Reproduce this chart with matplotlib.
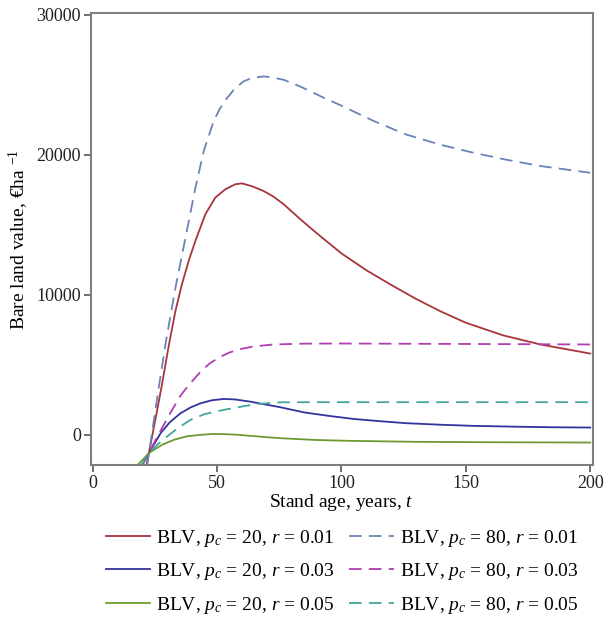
import matplotlib
matplotlib.use("Agg")
import matplotlib.pyplot as plt

plt.rcParams["font.family"] = ["Liberation Serif", "DejaVu Serif"]
plt.rcParams["mathtext.fontset"] = "custom"
plt.rcParams["mathtext.rm"] = "Liberation Serif"
plt.rcParams["mathtext.it"] = "Liberation Serif:italic"

# BLV, p_c = 20, r = 0.01
t_20_01 = [21.5, 24, 26, 27.9, 30.6, 33.3, 35.9, 38.6, 41.3, 45.3, 49.3, 53.3, 57.3, 60,
           64, 68.7, 72.7, 76.7, 83.4, 90, 100, 110, 120, 130, 140, 150, 165, 180, 200]
v_20_01 = [-2300, 0, 1850, 3650, 6400, 8880, 10780, 12440, 13860, 15760, 16940, 17530,
           17890, 17950, 17750, 17410, 17000, 16470, 15400, 14400, 12950, 11750, 10700,
           9700, 8800, 8000, 7100, 6450, 5800]

# BLV, p_c = 20, r = 0.03
t_20_03 = [19.5, 22.6, 27.3, 31, 35.3, 39.3, 43.3, 48, 52.6, 57, 63.3, 69, 75.4, 85,
           95, 105, 115, 126, 140, 153, 170, 185, 200]
v_20_03 = [-2300, -1300, 120, 900, 1540, 1950, 2250, 2470, 2560, 2530, 2370, 2180,
           1970, 1600, 1350, 1130, 980, 830, 720, 640, 580, 540, 520]

# BLV, p_c = 20, r = 0.05
t_20_05 = [17.5, 20, 22.6, 24.6, 28, 32.6, 38, 43.3, 48, 52.6, 58, 63.3, 70, 75.4, 90,
           103.4, 130, 160, 200]
v_20_05 = [-2250, -1800, -1300, -1070, -700, -355, -100, 0, 60, 50, 10, -70, -170, -240,
           -370, -430, -500, -530, -550]

# BLV, p_c = 80, r = 0.01
t_80_01 = [21.8, 24, 26.6, 29.3, 33.3, 37.3, 41.3, 44.6, 48.6, 51, 54, 57, 60.6, 64,
           68.7, 72, 76.7, 83.4, 92.7, 100, 113, 126, 140, 153, 166, 180, 200]
v_80_01 = [-2300, 350, 3430, 6520, 10540, 14090, 17650, 20250, 22390, 23250, 24040,
           24700, 25230, 25480, 25590, 25520, 25350, 24870, 24080, 23500, 22400, 21440,
           20700, 20140, 19650, 19190, 18710]

# BLV, p_c = 80, r = 0.03
t_80_03 = [19.5, 22.6, 25, 27.3, 31, 35.3, 38.6, 43.3, 47, 51.3, 55, 59.3, 65, 72.7,
           85, 100, 130, 160, 200]
v_80_03 = [-2300, -1300, -450, 300, 1500, 2800, 3550, 4500, 5100, 5570, 5880, 6120,
           6320, 6450, 6510, 6520, 6500, 6480, 6450]

# BLV, p_c = 80, r = 0.05
t_80_05 = [19, 22.6, 26, 29.9, 34, 39.3, 45, 52.6, 60, 66, 75.4, 90, 120, 160, 200]
v_80_05 = [-2300, -1300, -700, -120, 450, 1070, 1480, 1780, 2020, 2200, 2320, 2330,
           2330, 2330, 2330]

x_ticks = [0, 50, 100, 150, 200]
y_ticks = [0, 10000, 20000, 30000]

fig = plt.figure(figsize=(6.13, 6.30), dpi=100)
ax = fig.add_axes([0.148, 0.262, 0.819, 0.717])

dash = (7, 4)
series = [
    (t_20_01, v_20_01, "#A8343C", None, "20", "0.01"),
    (t_20_03, v_20_03, "#33339E", None, "20", "0.03"),
    (t_20_05, v_20_05, "#6C9A30", None, "20", "0.05"),
    (t_80_01, v_80_01, "#6A84B6", dash, "80", "0.01"),
    (t_80_03, v_80_03, "#B03EAE", dash, "80", "0.03"),
    (t_80_05, v_80_05, "#45A59C", dash, "80", "0.05"),
]
for t, v, col, ds, pc, r in series:
    lbl = f"BLV, $p_c$ = {pc}, $r$ = {r}"
    if ds:
        ax.plot(t, v, color=col, lw=1.3, dashes=ds, label=lbl)
    else:
        ax.plot(t, v, color=col, lw=1.3, label=lbl)

ax.set_xlim(-0.8, 201)
ax.set_ylim(-2150, 30100)
ax.set_xticks(x_ticks)
ax.set_yticks(y_ticks)
for s in ax.spines.values():
    s.set_color("#7f7f7f")
    s.set_linewidth(1.5)
ax.tick_params(direction="out", length=5, width=1.2, color="#555555",
               labelsize=13, labelcolor="#222222", pad=2)
ax.set_xlabel("Stand age, years, $t$", fontsize=14, labelpad=0)
ax.set_ylabel("Bare land value, €ha $^{-1}$", fontsize=14, labelpad=4)

# legend below the axes, two columns (solid p_c = 20 | dashed p_c = 80)
fig.legend(loc="upper center", bbox_to_anchor=(0.558, 0.19), ncol=2, frameon=False,
           fontsize=14, handlelength=2.3, handletextpad=0.31, columnspacing=0.72,
           labelspacing=0.64)

fig.savefig("out.png", dpi=100)
